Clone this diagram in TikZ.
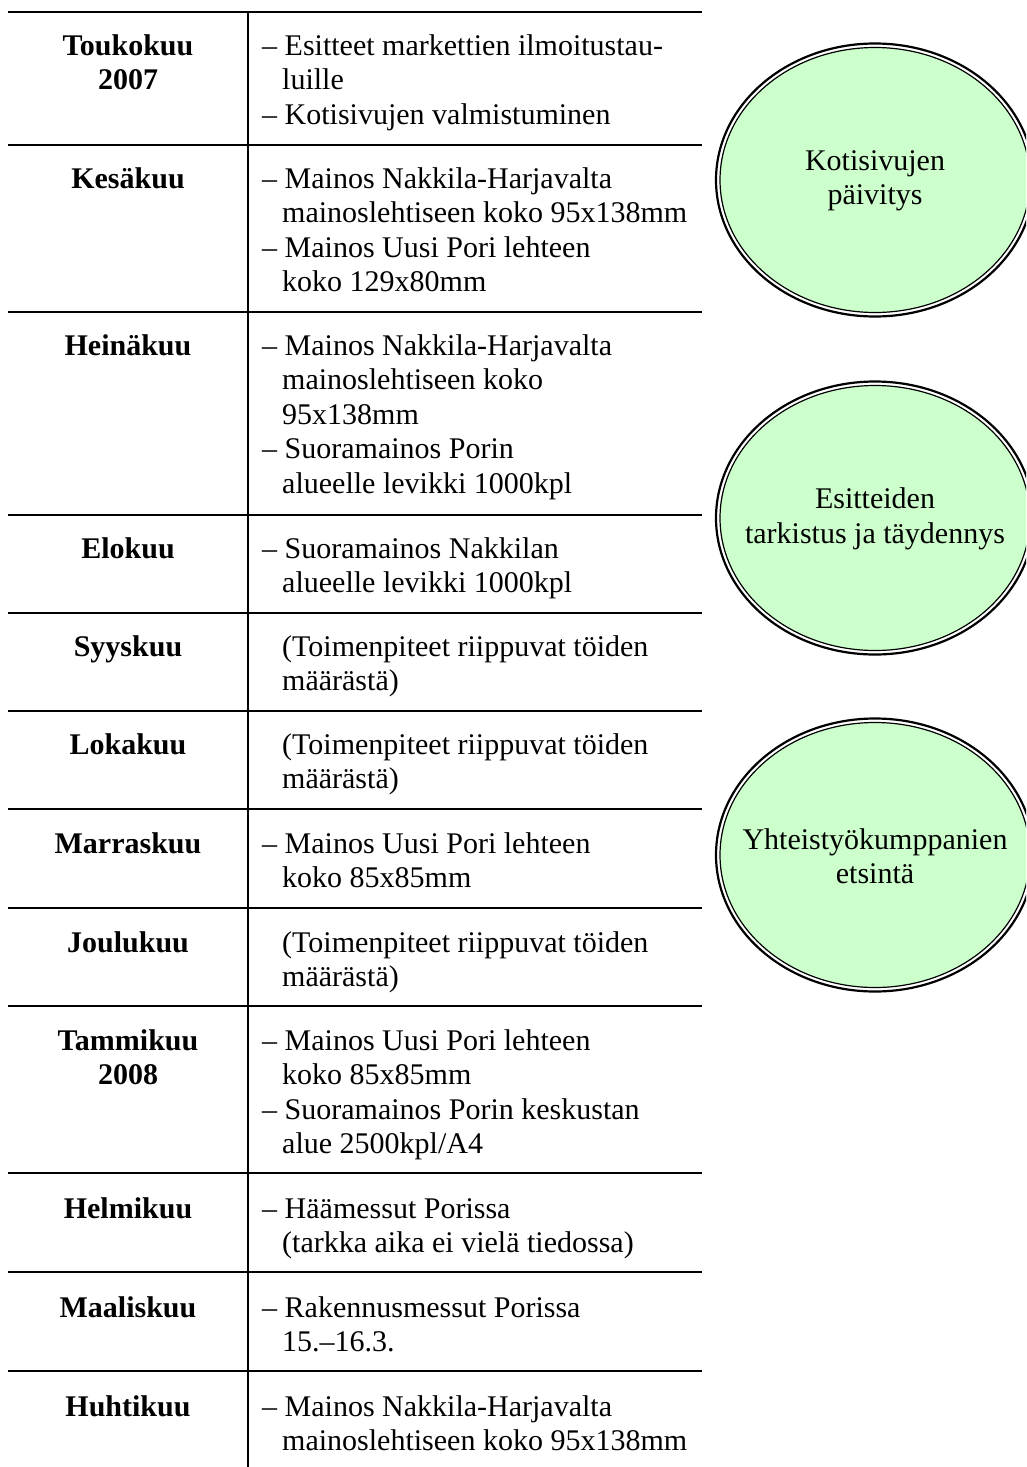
\documentclass[tikz,border=0pt]{standalone}
\usepackage{fontspec}
\setmainfont{Liberation Serif}
\usetikzlibrary{shapes.geometric}
\definecolor{bubblegreen}{HTML}{CCFFCC}
% cells: top-aligned tabulars so that the node's base is the first baseline
\newcommand\monthcell[1]{\begin{tabular}[t]{@{}c@{}}#1\end{tabular}}
\newcommand\plancell[1]{\begin{tabular}[t]{@{}l@{}}#1\end{tabular}}
\newcommand\hang{\hspace*{20pt}}
\begin{document}
\begin{tikzpicture}[x=1pt,y=-1pt,
  rule/.style={line width=2pt},
  month/.style={anchor=base,inner sep=0pt,font=\fontsize{30}{34.5}\selectfont\bfseries},
  plan/.style={anchor=base west,inner sep=0pt,font=\fontsize{30}{34.5}\selectfont},
  bubble/.style={ellipse,draw=black,line width=2.2pt,fill=white,
    minimum width=318pt,minimum height=273pt,inner sep=0pt},
  bubbleinner/.style={ellipse,draw=black,line width=1.2pt,fill=bubblegreen,
    minimum width=310pt,minimum height=265pt,inner sep=0pt},
  bubbletext/.style={align=center,inner sep=0pt,font=\fontsize{30}{34.5}\selectfont}]
\clip (0,0) rectangle (1026,1467);
\fill[white] (0,0) rectangle (1026,1467);

% table rules
\foreach \y in {12,145,312,515,613,711,809,908,1006,1173,1272,1371}
  \draw[rule] (8,\y) -- (702,\y);
\draw[rule] (248,12) -- (248,1467);

% month column
\node[month] (m1)  at (128,55)   {\monthcell{Toukokuu\\2007}};
\node[month] (m2)  at (128,188)  {\monthcell{Kesäkuu}};
\node[month] (m3)  at (128,355)  {\monthcell{Heinäkuu}};
\node[month] (m4)  at (128,558)  {\monthcell{Elokuu}};
\node[month] (m5)  at (128,656)  {\monthcell{Syyskuu}};
\node[month] (m6)  at (128,754)  {\monthcell{Lokakuu}};
\node[month] (m7)  at (128,853)  {\monthcell{Marraskuu}};
\node[month] (m8)  at (128,952)  {\monthcell{Joulukuu}};
\node[month] (m9)  at (128,1050) {\monthcell{Tammikuu\\2008}};
\node[month] (m10) at (128,1218) {\monthcell{Helmikuu}};
\node[month] (m11) at (128,1317) {\monthcell{Maaliskuu}};
\node[month] (m12) at (128,1416) {\monthcell{Huhtikuu}};

% actions column
\node[plan] (p1)  at (262,55)   {\plancell{– Esitteet markettien ilmoitustau-\\\hang luille\\– Kotisivujen valmistuminen}};
\node[plan] (p2)  at (262,188)  {\plancell{– Mainos Nakkila-Harjavalta\\\hang mainoslehtiseen koko 95x138mm\\– Mainos Uusi Pori lehteen\\\hang koko 129x80mm}};
\node[plan] (p3)  at (262,355)  {\plancell{– Mainos Nakkila-Harjavalta\\\hang mainoslehtiseen koko\\\hang 95x138mm\\– Suoramainos Porin\\\hang alueelle levikki 1000kpl}};
\node[plan] (p4)  at (262,558)  {\plancell{– Suoramainos Nakkilan\\\hang alueelle levikki 1000kpl}};
\node[plan] (p5)  at (262,656)  {\plancell{\hang (Toimenpiteet riippuvat töiden\\\hang määrästä)}};
\node[plan] (p6)  at (262,754)  {\plancell{\hang (Toimenpiteet riippuvat töiden\\\hang määrästä)}};
\node[plan] (p7)  at (262,853)  {\plancell{– Mainos Uusi Pori lehteen\\\hang koko 85x85mm}};
\node[plan] (p8)  at (262,952)  {\plancell{\hang (Toimenpiteet riippuvat töiden\\\hang määrästä)}};
\node[plan] (p9)  at (262,1050) {\plancell{– Mainos Uusi Pori lehteen\\\hang koko 85x85mm\\– Suoramainos Porin keskustan\\\hang alue 2500kpl/A4}};
\node[plan] (p10) at (262,1218) {\plancell{– Häämessut Porissa\\\hang (tarkka aika ei vielä tiedossa)}};
\node[plan] (p11) at (262,1317) {\plancell{– Rakennusmessut Porissa\\\hang 15.–16.3.}};
\node[plan] (p12) at (262,1416) {\plancell{– Mainos Nakkila-Harjavalta\\\hang mainoslehtiseen koko 95x138mm}};

% ongoing tasks: double-ringed ellipses with their captions centred on them
\node[bubble] (b1) at (875,180) {};
\node[bubble] (b2) at (875,518) {};
\node[bubble] (b3) at (875,855) {};
\node[bubbleinner] (i1) at (b1.center) {};
\node[bubbleinner] (i2) at (b2.center) {};
\node[bubbleinner] (i3) at (b3.center) {};
\node[bubbletext] (t1) at ([yshift=-1pt]b1.center) {Kotisivujen\\päivitys};
\node[bubbletext] (t2) at ([yshift=-1pt]b2.center) {Esitteiden\\tarkistus ja täydennys};
\node[bubbletext] (t3) at ([yshift=-1pt]b3.center) {Yhteistyökumppanien\\etsintä};
\end{tikzpicture}
\end{document}
